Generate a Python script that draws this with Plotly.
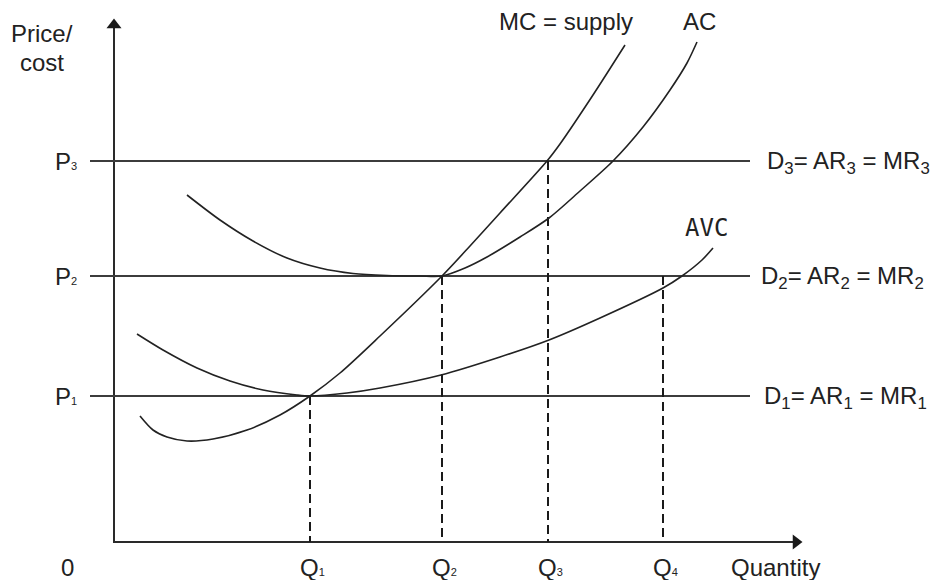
import plotly.graph_objects as go

# ---- data (quantity / price units) ----
q_levels = [19.6, 32.8, 43.4, 54.9]          # Q1..Q4
q_labels = ["1", "2", "3", "4"]
p_levels = [14.6, 26.6, 38.1]                 # P1..P3
p_labels = ["1", "2", "3"]
q_dash_top = [14.6, 26.6, 38.1, 26.6]         # where each dashed drop line starts

mc_x = [2.6, 3.9, 5.3, 7.3, 9.9, 13.3, 16.6, 19.6, 22.6, 26.6, 32.8, 35.6, 38.6, 43.3, 44.6, 47.9, 51.1]
mc_y = [12.6, 11.2, 10.5, 10.1, 10.3, 11.2, 12.7, 14.6, 16.9, 20.6, 26.6, 29.6, 32.9, 38.1, 39.8, 44.7, 49.7]

ac_x = [7.3, 10.6, 13.9, 17.3, 20.6, 23.9, 27.3, 30.6, 32.8, 35.1, 37.3, 40.6, 43.5, 46.6, 49.9, 52.9, 55.6, 57.3, 58.3]
ac_y = [34.7, 32.2, 30.1, 28.4, 27.4, 26.85, 26.65, 26.6, 26.6, 27.4, 28.5, 30.5, 32.4, 35.1, 38.1, 41.5, 45.2, 47.9, 50.0]

avc_x = [2.3, 4.9, 8.3, 11.6, 14.9, 18.3, 19.6, 23.3, 26.6, 32.7, 38.6, 43.5, 48.6, 54.9, 56.8, 58.8, 59.9]
avc_y = [20.8, 19.2, 17.4, 16.1, 15.2, 14.7, 14.6, 14.9, 15.4, 16.7, 18.5, 20.2, 22.4, 25.4, 26.6, 28.2, 29.4]

axis_x_end = 68.0
axis_y_end = 51.5
hline_start, hline_end = -2.4, 63.6

FONT = "Liberation Sans, Arial, sans-serif"
CURVE = "#222222"
FS = 24

fig = go.Figure()

# axes
fig.add_trace(go.Scatter(x=[0, 0, axis_x_end], y=[axis_y_end, 0, 0], mode="lines",
                         line=dict(color="#2a2a2a", width=2), hoverinfo="skip"))
fig.add_trace(go.Scatter(x=[0], y=[axis_y_end + 0.2], mode="markers",
                         marker=dict(symbol="triangle-up", size=13, color="#1a1a1a"), hoverinfo="skip"))
fig.add_trace(go.Scatter(x=[axis_x_end + 0.2], y=[0], mode="markers",
                         marker=dict(symbol="triangle-right", size=13, color="#1a1a1a"), hoverinfo="skip"))

# price lines
for p in p_levels:
    fig.add_trace(go.Scatter(x=[hline_start, hline_end], y=[p, p], mode="lines",
                             line=dict(color="#3c3c3c", width=2), hoverinfo="skip"))

# dashed drop lines
for q, top in zip(q_levels, q_dash_top):
    fig.add_trace(go.Scatter(x=[q, q], y=[top, 0], mode="lines",
                             line=dict(color="#1a1a1a", width=2, dash="9px,5px"), hoverinfo="skip"))

# cost curves
for cx, cy in [(mc_x, mc_y), (ac_x, ac_y), (avc_x, avc_y)]:
    fig.add_trace(go.Scatter(x=cx, y=cy, mode="lines",
                             line=dict(color=CURVE, width=1.6, shape="spline", smoothing=0.8),
                             hoverinfo="skip"))

ann = []
def txt(x, y, s, size=FS, xanchor="center", family=FONT):
    ann.append(dict(x=x, y=y, xref="x", yref="y", text=s, showarrow=False,
                    xanchor=xanchor, yanchor="middle",
                    font=dict(family=family, size=size, color="#222222")))

txt(-7.2, 50.9, "Price/")
txt(-7.2, 48.0, "cost")
txt(-4.7, -2.5, "0")
for q, l in zip(q_levels, q_labels):
    txt(q + 0.2, -2.5, 'Q<span style="font-size:11px">%s</span>' % l)
txt(66.1, -2.5, "Quantity")
for p, l in zip(p_levels, p_labels):
    txt(-4.8, p, 'P<span style="font-size:11px">%s</span>' % l)

txt(45.2, 52.1, "MC = supply")
txt(58.5, 52.1, "AC")
txt(59.2, 31.4, "AVC", size=24, family="DejaVu Sans Mono, monospace")

right = [(65.1, "3"), (64.5, "2"), (64.8, "1")]
for p, (x0, l) in zip(p_levels[::-1], right):
    txt(x0, p - 0.1, "D<sub>%s</sub>= AR<sub>%s</sub> = MR<sub>%s</sub>" % (l, l, l),
        xanchor="left")

fig.update_layout(
    width=931, height=580, margin=dict(l=0, r=0, t=0, b=0),
    paper_bgcolor="white", plot_bgcolor="white", showlegend=False,
    xaxis=dict(range=[-11.4, 81.7], visible=False, fixedrange=True),
    yaxis=dict(range=[-3.8, 54.2], visible=False, fixedrange=True),
    annotations=ann,
)

fig.write_html("out.html", config={"displayModeBar": False},
               post_script="document.body.style.margin='0px';document.body.style.overflow='hidden';")
